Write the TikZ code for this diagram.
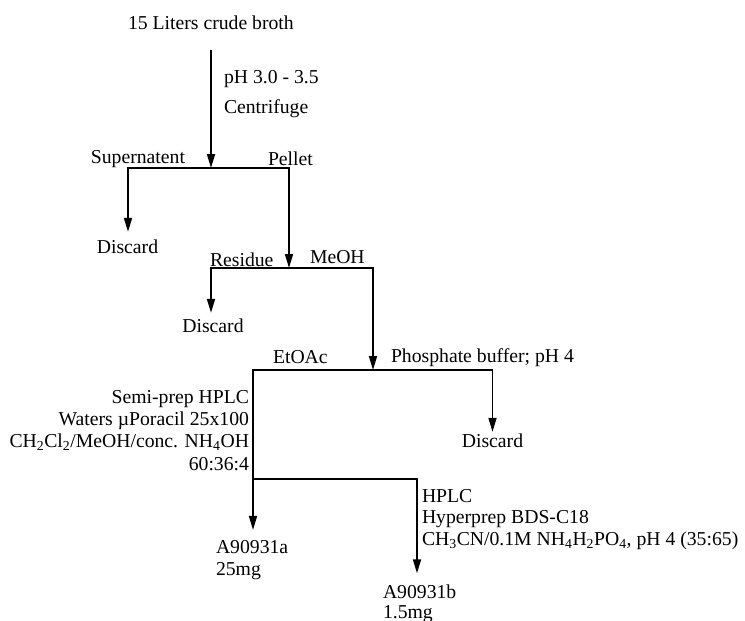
\documentclass[tikz,border=0pt]{standalone}
\usepackage{fontspec}
\setmainfont{Liberation Serif}
\usetikzlibrary{arrows.meta}
\tikzset{
  txt/.style={inner sep=0pt, outer sep=0pt, font=\fontsize{19.7pt}{22pt}\selectfont},
  ln/.style={line width=1.8pt, line join=miter},
  arr/.style={ln, -{Triangle[length=14pt,width=8pt]}}
}
\begin{document}
\begin{tikzpicture}[x=1pt,y=-1pt]
\useasboundingbox[fill=white] (0,0) rectangle (745,621);
% text nodes
\node[txt, anchor=base west] (title) at (128,30) {15 Liters crude broth};
\node[txt, anchor=base west] (ph) at (224,83) {pH 3.0 - 3.5};
\node[txt, anchor=base west] (cent) at (224,113) {Centrifuge};
\node[txt, anchor=base east] (super) at (185,163) {Supernatent};
\node[txt, anchor=base west] (pellet) at (268,165) {Pellet};
\node[txt, anchor=base] (d1) at (127.5,253) {Discard};
\node[txt, anchor=base west] (resid) at (210,266) {Residue};
\node[txt, anchor=base west] (meoh) at (310,263) {MeOH};
\node[txt, anchor=base] (d2) at (213,332) {Discard};
\node[txt, anchor=base west] (etoac) at (273,363) {EtOAc};
\node[txt, anchor=base west] (phos) at (391,362) {Phosphate buffer; pH 4};
\node[txt, anchor=base] (d3) at (492.5,447) {Discard};
\node[txt, anchor=base east] (sp1) at (249,403) {Semi-prep HPLC};
\node[txt, anchor=base east] (sp2) at (249,425) {Waters µPoracil 25x100};
\node[txt, anchor=base east] (sp3) at (249,447) {CH\textsubscript{2}Cl\textsubscript{2}/MeOH/conc. NH\textsubscript{4}OH};
\node[txt, anchor=base east] (sp4) at (249,470) {60:36:4};
\node[txt, anchor=base west] (hp1) at (422,502) {HPLC};
\node[txt, anchor=base west] (hp2) at (422,523) {Hyperprep BDS-C18};
\node[txt, anchor=base west] (hp3) at (422,545) {CH\textsubscript{3}CN/0.1M NH\textsubscript{4}H\textsubscript{2}PO\textsubscript{4}, pH 4 (35:65)};
\node[txt, anchor=base west] (a1) at (216,553) {A90931a};
\node[txt, anchor=base west] (m1) at (216,575) {25mg};
\node[txt, anchor=base west] (a2) at (383,598) {A90931b};
\node[txt, anchor=base west] (m2) at (383,618) {1.5mg};
% junction coordinates
\coordinate (s1M) at (211,168);
\coordinate (s1L) at (128,168);
\coordinate (s1R) at (289,168);
\coordinate (s2L) at (211,268);
\coordinate (s2R) at (373,268);
\coordinate (s2M) at (289,268);
\coordinate (s3L) at (253,370);
\coordinate (s3R) at (492.5,370);
\coordinate (s3M) at (373,370);
\coordinate (s4L) at (253,479);
\coordinate (s4R) at (417,479);
% connectors
\draw[arr, shorten <=20pt] (title.south -| s1M) -- (s1M);
\draw[arr, shorten >=7.5pt] (s1R) -- (s1L) -- (s1L |- d1.north);
\draw[arr] (s1L) -- (s1R) -- (s2M);
\draw[arr, shorten >=5.5pt] (s2R) -- (s2L) -- (s2L |- d2.north);
\draw[arr] (s2L) -- (s2R) -- (s3M);
\draw[arr, shorten >=1.5pt] (s3L) -- (s3R) -- (s3R |- d3.north);
\draw[ln] (s3R) -- (s3L) -- (s4L);
\draw[arr, shorten >=10pt] (s4R) -- (s4L) -- (s4L |- a1.north);
\draw[arr, shorten >=11pt] (s4L) -- (s4R) -- (s4R |- a2.north);
\end{tikzpicture}
\end{document}
